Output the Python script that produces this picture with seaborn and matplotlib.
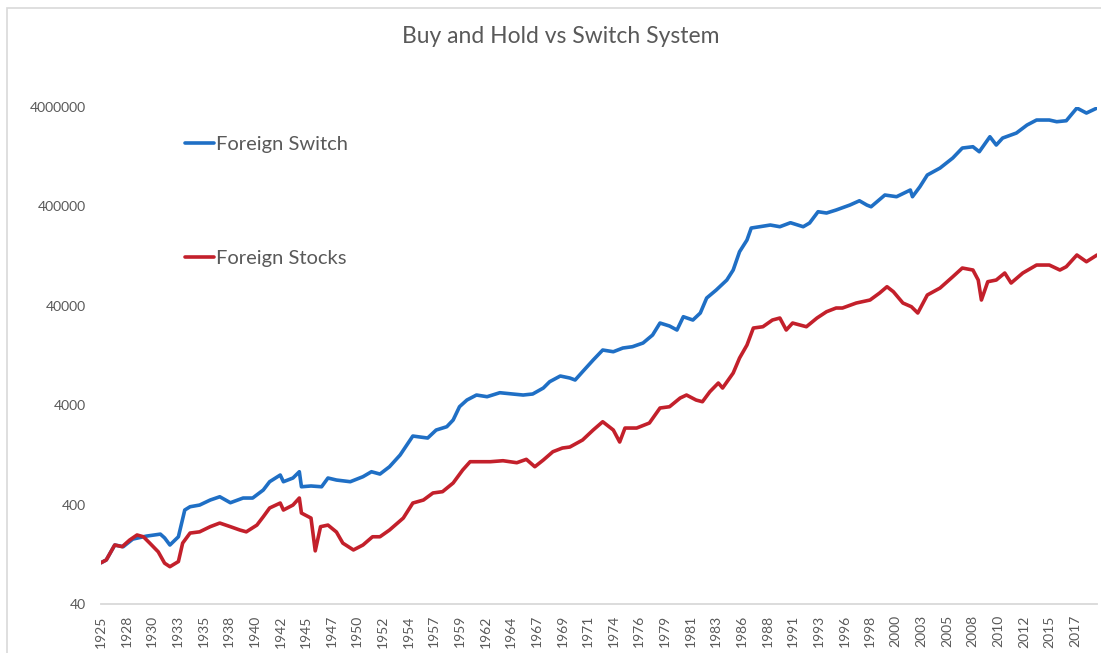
import matplotlib
matplotlib.use("Agg")
import matplotlib.pyplot as plt
import matplotlib.ticker as mticker
from matplotlib.patches import Rectangle
import seaborn as sns
import pandas as pd
import numpy as np

# values (log scale)
switch_years = [1925.0, 1925.5, 1926.3, 1927.1, 1928.0, 1929.3, 1930.6, 1931.0, 1931.5, 1932.3,
                1932.9, 1933.4, 1934.3, 1935.3, 1936.2, 1937.2, 1938.4, 1939.3, 1940.3, 1940.9,
                1941.9, 1942.2, 1943.1, 1943.7, 1943.9, 1944.8, 1945.8, 1946.4, 1947.2, 1948.5,
                1949.7, 1950.5, 1951.3, 1952.2, 1953.2, 1954.4, 1955.1, 1955.8, 1956.6, 1957.6,
                1958.2, 1958.8, 1959.5, 1960.4, 1961.4, 1962.6, 1963.8, 1964.8, 1965.7, 1966.7,
                1967.3, 1968.3, 1969.2, 1969.7, 1970.4, 1971.4, 1972.3, 1973.3, 1974.2, 1975.1,
                1976.1, 1977.0, 1977.7, 1978.6, 1979.3, 1979.9, 1980.8, 1981.5, 1982.1, 1983.0,
                1984.0, 1984.6, 1985.2, 1985.9, 1986.3, 1987.1, 1988.1, 1989.0, 1990.0, 1991.2,
                1991.8, 1992.6, 1993.4, 1994.3, 1995.6, 1996.5, 1997.2, 1997.6, 1998.9, 2000.0,
                2001.3, 2001.5, 2002.2, 2002.9, 2004.1, 2005.3, 2006.2, 2007.2, 2007.8, 2008.8,
                2009.4, 2010.0, 2011.3, 2012.3, 2013.2, 2014.4, 2015.1, 2016.0, 2017.0, 2017.9,
                2018.9]
switch_vals = [104, 111, 157, 151, 180, 193, 202, 185, 157, 190,
               353, 381, 396, 445, 480, 418, 466, 466, 561, 680,
               794, 680, 741, 857, 605, 616, 605, 741, 707, 680,
               764, 857, 812, 962, 1262, 1959, 1914, 1871, 2252, 2431,
               2840, 3864, 4513, 5066, 4872, 5345, 5188, 5066, 5188, 5957,
               6896, 7868, 7512, 7172, 8692, 11397, 14368, 13812, 15052, 15513,
               16900, 20336, 26856, 25052, 22840, 31072, 28784, 33868, 47920, 57680,
               72720, 91680, 140080, 183680, 242520, 249960, 260000, 249960, 274200, 249960,
               272300, 353800, 343300, 368000, 413000, 456000, 413000, 397000, 521000, 501000,
               585000, 501000, 631000, 828000, 973000, 1228000, 1547000, 1594000, 1420000, 2010000,
               1659000, 1950000, 2190000, 2636000, 2960000, 2960000, 2846000, 2912000, 3909000, 3480000,
               3909000]

stocks_years = [1925.0, 1925.5, 1926.3, 1927.0, 1927.7, 1928.4, 1929.0, 1929.6, 1930.4, 1931.0,
                1931.5, 1932.3, 1932.7, 1933.4, 1934.3, 1935.3, 1936.2, 1937.2, 1938.1, 1938.7,
                1939.7, 1940.3, 1940.9, 1941.9, 1942.2, 1943.1, 1943.7, 1943.9, 1944.8, 1945.2,
                1945.7, 1946.4, 1947.2, 1947.8, 1948.8, 1949.7, 1950.6, 1951.3, 1952.2, 1953.5,
                1954.4, 1955.4, 1956.3, 1957.2, 1958.2, 1959.1, 1959.8, 1960.7, 1961.7, 1962.9,
                1964.2, 1965.1, 1965.9, 1966.7, 1967.6, 1968.5, 1969.2, 1970.4, 1971.4, 1972.3,
                1973.3, 1973.9, 1974.4, 1975.5, 1976.7, 1977.7, 1978.6, 1979.6, 1980.2, 1981.1,
                1981.7, 1982.4, 1983.2, 1983.6, 1984.6, 1985.2, 1985.9, 1986.5, 1987.4, 1988.3,
                1989.0, 1989.6, 1990.2, 1991.5, 1992.5, 1993.4, 1994.3, 1994.9, 1996.2, 1997.5,
                1998.4, 1999.1, 1999.7, 2000.6, 2001.4, 2002.0, 2002.9, 2004.1, 2005.3, 2006.2,
                2007.2, 2007.7, 2008.0, 2008.6, 2009.4, 2010.2, 2010.8, 2011.9, 2013.2, 2014.4,
                2015.4, 2016.0, 2017.0, 2017.9, 2018.9]
stocks_vals = [104, 111, 157, 151, 176, 198, 190, 164, 134, 103,
               95, 107, 164, 207, 213, 240, 261, 240, 222, 213,
               249, 302, 370, 415, 353, 396, 466, 329, 293, 137,
               240, 249, 212, 164, 140, 157, 190, 190, 222, 293,
               415, 445, 524, 540, 660, 892, 1081, 1081, 1081, 1106,
               1056, 1142, 962, 1124, 1362, 1484, 1519, 1787, 2252, 2729,
               2252, 1706, 2358, 2358, 2649, 3749, 3864, 4725, 5066, 4513,
               4337, 5469, 6689, 5957, 8435, 11940, 16130, 23910, 24650, 28784,
               30160, 22840, 26856, 24650, 30160, 34900, 38020, 38020, 42680, 45760,
               53800, 62280, 55480, 42680, 39180, 33870, 51400, 60400, 78480, 96000,
               91680, 72720, 45760, 69920, 72720, 85530, 67840, 85530, 102900, 102900,
               91680, 98960, 129800, 111100, 129800]

tick_labels = ["1925", "1928", "1930", "1933", "1935", "1938", "1940", "1942", "1945", "1947",
               "1950", "1952", "1954", "1957", "1959", "1962", "1964", "1967", "1969", "1971",
               "1974", "1976", "1979", "1981", "1983", "1986", "1988", "1991", "1993", "1996",
               "1998", "2000", "2003", "2005", "2008", "2010", "2012", "2015", "2017"]
y_ticks = [40, 400, 4000, 40000, 400000, 4000000]

df = pd.concat([
    pd.DataFrame({"year": switch_years, "value": switch_vals, "series": "Foreign Switch"}),
    pd.DataFrame({"year": stocks_years, "value": stocks_vals, "series": "Foreign Stocks"}),
])

sns.set_theme(style="white")
plt.rcParams["font.family"] = ["Lato", "DejaVu Sans"]

GRAY = "#595959"
fig = plt.figure(figsize=(11.01, 6.53), dpi=100)
ax = fig.add_axes([0.0917, 0.075, 0.9047, 0.7611])

sns.lineplot(data=df, x="year", y="value", hue="series",
             palette={"Foreign Switch": "#1F6FC5", "Foreign Stocks": "#C3202B"},
             linewidth=2.6, ax=ax, sort=True)

ax.set_yscale("log")
ax.set_ylim(40, 4000000)
ax.set_yticks(y_ticks)
ax.yaxis.set_major_formatter(mticker.FuncFormatter(lambda v, p: f"{int(round(v))}"))
ax.yaxis.set_minor_locator(mticker.NullLocator())

# category-style axis: labels evenly spaced every 29 months
ax.set_xlim(1925, 2018.9)
ax.set_xticks([1925 + i * 29 / 12 for i in range(len(tick_labels))])
ax.set_xticklabels(tick_labels, rotation=90)

ax.tick_params(axis="both", length=0, labelsize=10, colors=GRAY, pad=8)
ax.tick_params(axis="y", pad=11)
ax.set_xlabel("")
ax.set_ylabel("")
for side in ["top", "right", "left"]:
    ax.spines[side].set_visible(False)
ax.spines["bottom"].set_color("#D9D9D9")
ax.spines["bottom"].set_linewidth(1.3)

leg = ax.legend(loc="upper left", bbox_to_anchor=(0.066, 0.978), frameon=False,
                fontsize=14.5, handlelength=1.45, handletextpad=0.1, labelspacing=4.8)
for t in leg.get_texts():
    t.set_color(GRAY)

fig.text(0.509, 0.944, "Buy and Hold vs Switch System", ha="center", va="center",
         fontsize=16.5, color=GRAY)

# chart area border
fig.patches.append(Rectangle((7 / 1101, -0.1), 1.2, 1.1 - 8 / 653, transform=fig.transFigure,
                             fill=False, edgecolor="#D9D9D9", linewidth=1.2))

fig.savefig("out.png", dpi=100)
